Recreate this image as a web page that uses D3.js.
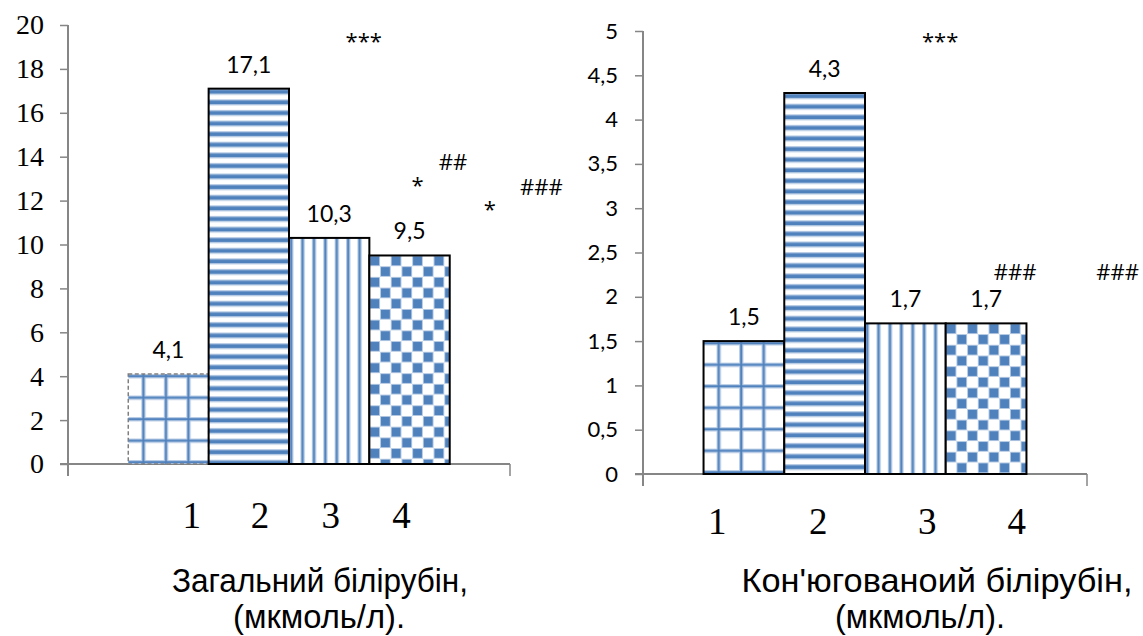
<!DOCTYPE html>
<html lang="uk">
<head>
<meta charset="utf-8">
<title>Білірубін</title>
<script src="https://d3js.org/d3.v7.min.js"></script>
<style>
  body { margin: 0; background: #fff; }
  svg { display: block; }
  .axis line { stroke: #868686; stroke-width: 1.5; }
</style>
</head>
<body>
<div id="chart"></div>
<script>
// data
const groups = ["1", "2", "3", "4"];
const totalValues = [4.1, 17.1, 10.3, 9.5];
const conjValues = [1.5, 4.3, 1.7, 1.7];
const totalTicks = [0, 2, 4, 6, 8, 10, 12, 14, 16, 18, 20];
const conjTicks = [0, 0.5, 1, 1.5, 2, 2.5, 3, 3.5, 4, 4.5, 5];
const totalTitle = ["Загальний білірубін,", "(мкмоль/л)."];
const conjTitle = ["Кон'югованоий білірубін,", "(мкмоль/л)."];
const totalMarks = ["***", "*", "##", "*", "###"];
const conjMarks = ["***", "###", "###"];
const fills = ["grid", "hstripe", "vstripe", "checker"];

const width = 1143, height = 636;
const dark = "#4f81bd", halo = "#b9cde5";
const serif = "Liberation Serif, Times New Roman, serif";
const sans = "Lato, Open Sans, sans-serif";
const fmt = d3.formatLocale({ decimal: ",", thousands: " ", grouping: [3], currency: ["", ""] }).format(".1~f");

const svg = d3.select("#chart").append("svg")
    .attr("width", width)
    .attr("height", height);
const defs = svg.append("defs");

// layout of each panel (positions live here, not in the data)
const panels = [
    {
        id: "l", values: totalValues, ticks: totalTicks, max: 20, title: totalTitle, marks: totalMarks,
        x0: 68, x1: 510, yTop: 25, yBase: 464,
        tickFont: serif, tickSize: 28, tickPad: 16,
        markPos: [[2.93, 18.9], [3.6, 12.35], [4.04, 13.4], [4.5, 11.25], [5.14, 12.25]],
        catPos: [0.79, 1.64, 2.52, 3.40], catBase: 528,
        titleX: [320, 319], titleLen: [296, 172], firstDashed: true
    },
    {
        id: "r", values: conjValues, ticks: conjTicks, max: 5, title: conjTitle, marks: conjMarks,
        x0: 643, x1: 1087, yTop: 31, yBase: 474,
        tickFont: sans, tickSize: 22, tickPad: 17,
        markPos: [[2.93, 4.8], [3.86, 2.19], [5.13, 2.19]],
        catPos: [0.17, 1.42, 2.77, 3.88], catBase: 534,
        titleX: [937, 920], titleLen: [391, 170], firstDashed: false
    }
];

function makePattern(id, type, ox, oy) {
    const p = defs.append("pattern")
        .attr("id", id)
        .attr("patternUnits", "userSpaceOnUse")
        .attr("x", ox).attr("y", oy);
    if (type === "grid") {
        p.attr("width", 22.5).attr("height", 21.5);
        p.append("rect").attr("width", 22.5).attr("height", 21.5).attr("fill", "#fff");
        p.append("rect").attr("x", 0).attr("width", 4.4).attr("height", 21.5).attr("fill", halo);
        p.append("rect").attr("y", 0).attr("width", 22.5).attr("height", 4.4).attr("fill", halo);
        p.append("rect").attr("x", 1.2).attr("width", 2).attr("height", 21.5).attr("fill", dark);
        p.append("rect").attr("y", 1.2).attr("width", 22.5).attr("height", 2).attr("fill", dark);
    } else if (type === "hstripe") {
        p.attr("width", 10).attr("height", 10.6);
        p.append("rect").attr("width", 10).attr("height", 10.6).attr("fill", "#fff");
        p.append("rect").attr("y", 0).attr("width", 10).attr("height", 6.2).attr("fill", halo);
        p.append("rect").attr("y", 1.3).attr("width", 10).attr("height", 3.6).attr("fill", dark);
    } else if (type === "vstripe") {
        p.attr("width", 11.4).attr("height", 10);
        p.append("rect").attr("width", 11.4).attr("height", 10).attr("fill", "#fff");
        p.append("rect").attr("x", 0).attr("width", 4.4).attr("height", 10).attr("fill", halo);
        p.append("rect").attr("x", 1.2).attr("width", 2).attr("height", 10).attr("fill", dark);
    } else {
        const s = 10.7;
        p.attr("width", 2 * s).attr("height", 2 * s);
        p.append("rect").attr("width", 2 * s).attr("height", 2 * s).attr("fill", "#fff");
        [[0, 0], [s, s]].forEach(([a, b]) => {
            p.append("rect").attr("x", a).attr("y", b).attr("width", s).attr("height", s).attr("fill", halo);
            p.append("rect").attr("x", a + 0.9).attr("y", b + 0.9).attr("width", s - 1.8).attr("height", s - 1.8).attr("fill", dark);
        });
    }
}

panels.forEach(pn => {
    const g = svg.append("g");
    // slot scale: bars occupy slots 0..4, axis spans -0.75..4.75
    const x = d3.scaleLinear().domain([-0.75, 4.75]).range([pn.x0, pn.x1]);
    const y = d3.scaleLinear().domain([0, pn.max]).range([pn.yBase, pn.yTop]);

    // y axis
    const yAxis = d3.axisLeft(y)
        .tickValues(pn.ticks)
        .tickSize(8)
        .tickPadding(pn.tickPad)
        .tickFormat(fmt);
    const ya = g.append("g")
        .attr("class", "axis")
        .attr("transform", `translate(${pn.x0},0)`)
        .call(yAxis)
        .attr("font-family", pn.tickFont)
        .attr("font-size", pn.tickSize);
    ya.select(".domain").remove();
    ya.selectAll("text")
        .attr("fill", "#000")
        .attr("font-family", pn.tickFont)
        .attr("font-size", pn.tickSize);

    g.append("line")
        .attr("x1", pn.x0).attr("x2", pn.x0)
        .attr("y1", pn.yTop).attr("y2", pn.yBase + 12)
        .attr("stroke", "#868686").attr("stroke-width", 2);
    g.append("line")
        .attr("x1", pn.x0 - 8).attr("x2", pn.x1)
        .attr("y1", pn.yBase).attr("y2", pn.yBase)
        .attr("stroke", "#868686").attr("stroke-width", 2);
    g.append("line")
        .attr("x1", pn.x1).attr("x2", pn.x1)
        .attr("y1", pn.yBase).attr("y2", pn.yBase + 12)
        .attr("stroke", "#868686").attr("stroke-width", 1.5);

    // patterns aligned on each bar
    pn.values.forEach((v, i) => makePattern(`p-${pn.id}-${i}`, fills[i], x(i) + (i === 0 ? 13 : 0), y(v)));

    // bars
    g.append("g")
        .selectAll("rect")
        .data(pn.values)
        .join("rect")
        .attr("x", (d, i) => x(i))
        .attr("y", d => y(d))
        .attr("width", (d, i) => x(i + 1) - x(i))
        .attr("height", d => pn.yBase - y(d))
        .attr("fill", (d, i) => `url(#p-${pn.id}-${i})`)
        .attr("stroke", (d, i) => (i === 0 && pn.firstDashed) ? "#7f7f7f" : "#000")
        .attr("stroke-width", (d, i) => (i === 0 && pn.firstDashed) ? 1.5 : 2)
        .attr("stroke-dasharray", (d, i) => (i === 0 && pn.firstDashed) ? "4,2.5" : null);

    // value labels
    g.append("g")
        .selectAll("text")
        .data(pn.values)
        .join("text")
        .attr("x", (d, i) => x(i + 0.5))
        .attr("y", d => y(d) - 16)
        .attr("text-anchor", "middle")
        .attr("font-family", sans)
        .attr("font-size", 23)
        .text(d => fmt(d));

    // significance marks
    g.append("g")
        .selectAll("text")
        .data(pn.marks)
        .join("text")
        .attr("x", (d, i) => x(pn.markPos[i][0]))
        .attr("y", (d, i) => y(pn.markPos[i][1]))
        .attr("text-anchor", "middle")
        .attr("font-family", "Open Sans, sans-serif")
        .attr("font-size", 22)
        .text(d => d);

    // group numbers
    g.append("g")
        .selectAll("text")
        .data(groups)
        .join("text")
        .attr("x", (d, i) => x(pn.catPos[i]))
        .attr("y", pn.catBase)
        .attr("text-anchor", "middle")
        .attr("font-family", serif)
        .attr("font-size", 37)
        .text(d => d);

    // title below
    g.append("g")
        .selectAll("text")
        .data(pn.title)
        .join("text")
        .attr("x", (d, i) => pn.titleX[i])
        .attr("y", (d, i) => 592 + i * 36)
        .attr("text-anchor", "middle")
        .attr("font-family", "Liberation Sans, Arial, sans-serif")
        .attr("font-size", 33)
        .attr("textLength", (d, i) => pn.titleLen[i])
        .attr("lengthAdjust", "spacingAndGlyphs")
        .text(d => d);
});
</script>
</body>
</html>
